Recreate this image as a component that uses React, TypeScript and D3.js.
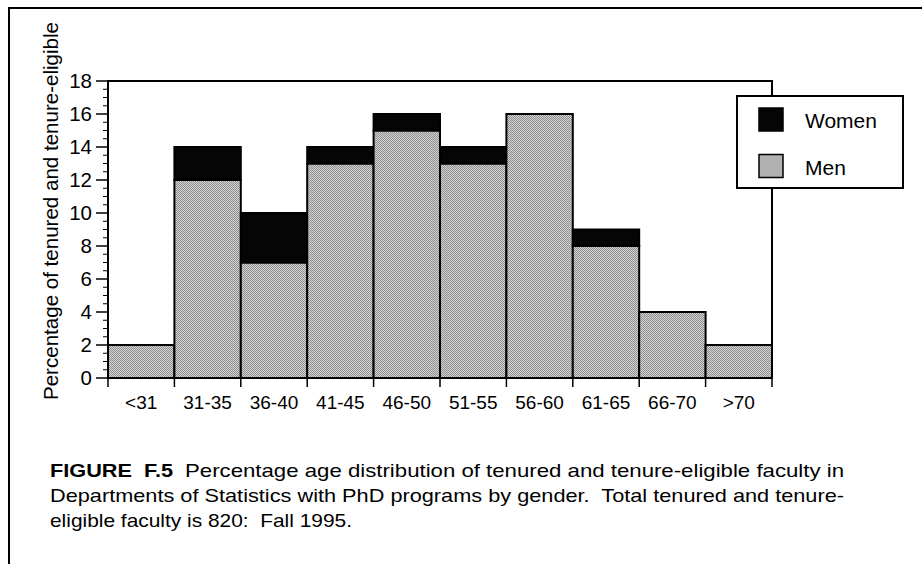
import React from 'react';
import * as d3 from 'd3';

const ageGroups = ['<31', '31-35', '36-40', '41-45', '46-50', '51-55', '56-60', '61-65', '66-70', '>70'];
const menPct = [2, 12, 7, 13, 15, 13, 16, 8, 4, 2];
const womenPct = [0, 2, 3, 1, 1, 1, 0, 1, 0, 0];
const yTicks = [0, 2, 4, 6, 8, 10, 12, 14, 16, 18];
const legendItems = ['Women', 'Men'];
const captionLabel = 'FIGURE  F.5';
const captionLines = [
  'Percentage age distribution of tenured and tenure-eligible faculty in',
  'Departments of Statistics with PhD programs by gender.  Total tenured and tenure-',
  'eligible faculty is 820:  Fall 1995.',
];

const W = 922;
const H = 564;
const plot = { left: 108, right: 772, top: 81, bottom: 378 };
const font = '"Liberation Sans", Arial, Helvetica, sans-serif';

// caption line boxes (x start, baseline, width) - the scan's caption type is set wide
const captionBoxes = [
  { x: 185, y: 477, len: 659 },
  { x: 50, y: 502, len: 794 },
  { x: 50, y: 527, len: 302 },
];

export default function App() {
  const x = d3.scaleBand<string>().domain(ageGroups).range([plot.left, plot.right]).padding(0);
  const y = d3.scaleLinear().domain([0, 18]).range([plot.bottom, plot.top]);
  const minorTicks = d3.range(0, 18.01, 0.5).filter(v => v % 2 !== 0);
  const bw = x.bandwidth();

  // stack men first, women on top
  const stacked = ageGroups.map((g, i) => ({
    group: g,
    men: menPct[i],
    total: menPct[i] + womenPct[i],
  }));

  const fills = { Women: '#050505', Men: 'url(#dither)' };

  return (
    <svg
      width={W}
      height={H}
      viewBox={`0 0 ${W} ${H}`}
      style={{ position: 'absolute', left: 0, top: 0, background: '#fff', fontFamily: font }}
    >
      <defs>
        <pattern id="dither" width={2} height={2} patternUnits="userSpaceOnUse">
          <rect width={2} height={2} fill="#d2d2d2" />
          <rect width={1} height={1} fill="#909090" />
          <rect x={1} y={1} width={1} height={1} fill="#909090" />
        </pattern>
      </defs>

      {/* page frame (top + left only) */}
      <line x1={9} y1={8} x2={W} y2={8} stroke="#000" strokeWidth={2} />
      <line x1={9} y1={7} x2={9} y2={H} stroke="#000" strokeWidth={2} />

      {/* bars */}
      {stacked.map(d => (
        <g key={d.group}>
          <rect
            x={x(d.group)!}
            y={y(d.men)}
            width={bw}
            height={y(0) - y(d.men)}
            fill={fills.Men}
            stroke="#000"
            strokeWidth={2}
          />
          {d.total > d.men && (
            <rect
              x={x(d.group)!}
              y={y(d.total)}
              width={bw}
              height={y(d.men) - y(d.total)}
              fill={fills.Women}
              stroke="#000"
              strokeWidth={2}
            />
          )}
        </g>
      ))}

      {/* plot frame */}
      <rect
        x={plot.left}
        y={plot.top}
        width={plot.right - plot.left}
        height={plot.bottom - plot.top}
        fill="none"
        stroke="#000"
        strokeWidth={2}
      />

      {/* y axis ticks */}
      {yTicks.map(t => (
        <g key={t}>
          <line x1={96} x2={plot.left} y1={y(t)} y2={y(t)} stroke="#000" strokeWidth={1.5} />
          <text x={92} y={y(t)} dy="0.36em" textAnchor="end" fontSize={20.5} fill="#000">
            {t}
          </text>
        </g>
      ))}
      {minorTicks.map(t => (
        <line key={t} x1={103} x2={plot.left} y1={y(t)} y2={y(t)} stroke="#000" strokeWidth={1} />
      ))}

      {/* x axis ticks + labels */}
      {[...ageGroups.map(g => x(g)!), plot.right].map((px, i) => (
        <line key={i} x1={px} x2={px} y1={plot.bottom} y2={plot.bottom + 9} stroke="#000" strokeWidth={1.5} />
      ))}
      {ageGroups.map(g => (
        <text key={g} x={x(g)! + bw / 2} y={409} textAnchor="middle" fontSize={19} fill="#000">
          {g}
        </text>
      ))}

      {/* y title */}
      <text
        transform={`translate(58,211) rotate(-90)`}
        textAnchor="middle"
        fontSize={19.5}
        fill="#000"
        textLength={378}
        lengthAdjust="spacingAndGlyphs"
      >
        Percentage of tenured and tenure-eligible
      </text>

      {/* legend */}
      <rect x={737} y={96} width={166} height={92} fill="#fff" stroke="#000" strokeWidth={2} />
      {legendItems.map((name, i) => (
        <g key={name} transform={`translate(0,${i * 46.5})`}>
          <rect
            x={759}
            y={108}
            width={24}
            height={23}
            fill={fills[name as 'Women' | 'Men']}
            stroke="#000"
            strokeWidth={1.5}
          />
          <text x={805} y={128} fontSize={21} fill="#000">
            {name}
          </text>
        </g>
      ))}

      {/* caption */}
      <text
        x={50}
        y={captionBoxes[0].y}
        fontSize={18.5}
        fontWeight="bold"
        fill="#000"
        textLength={123}
        lengthAdjust="spacingAndGlyphs"
        style={{ whiteSpace: 'pre' }}
      >
        {captionLabel}
      </text>
      {captionLines.map((line, i) => (
        <text
          key={i}
          x={captionBoxes[i].x}
          y={captionBoxes[i].y}
          fontSize={18.5}
          fill="#000"
          textLength={captionBoxes[i].len}
          lengthAdjust="spacingAndGlyphs"
          style={{ whiteSpace: 'pre' }}
        >
          {line}
        </text>
      ))}
    </svg>
  );
}
